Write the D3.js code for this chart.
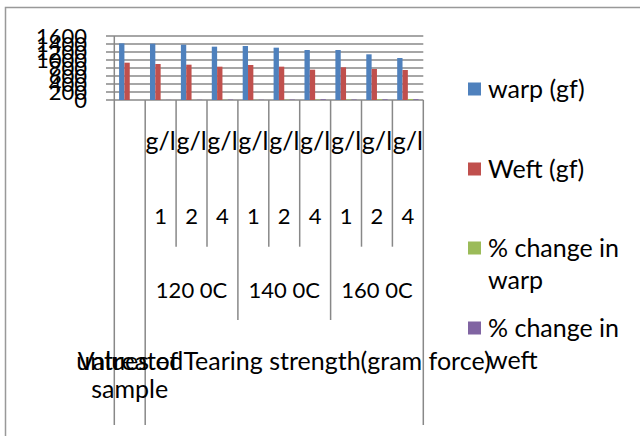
<!DOCTYPE html>
<html>
<head>
<meta charset="utf-8">
<script src="https://cdn.jsdelivr.net/npm/d3@7/dist/d3.min.js"></script>
<style>
  html, body { margin: 0; padding: 0; background: #fff; }
  svg { display: block; font-family: Lato, "Open Sans", sans-serif; }
</style>
</head>
<body>
<div id="chart"></div>
<script>
// categories: first one is the untreated sample, then 3 temps x 3 doses
var doses = ['', '1', '2', '4', '1', '2', '4', '1', '2', '4'];
var units = ['', 'g/l', 'g/l', 'g/l', 'g/l', 'g/l', 'g/l', 'g/l', 'g/l', 'g/l'];
var temps = ['120 0C', '140 0C', '160 0C'];
var untreatedLabel = ['untreated', 'sample'];
var groupLabel = 'Values of Tearing strength(gram force)';

var series = ['warp (gf)', 'Weft (gf)', '% change in warp', '% change in weft'];
var warp = [1417, 1408, 1383, 1333, 1350, 1308, 1250, 1250, 1142, 1050];
var weft = [933, 900, 883, 833, 875, 833, 758, 817, 775, 750];
var warpChange = [0, 0.6, 2.4, 5.9, 4.7, 7.7, 11.8, 11.8, 19.4, 25.9];
var weftChange = [0, 3.5, 5.4, 10.7, 6.2, 10.7, 18.8, 12.4, 16.9, 19.6];
var yTicks = [0, 200, 400, 600, 800, 1000, 1200, 1400, 1600];

var colors = ['#4f81bd', '#c0504d', '#9bbb59', '#8064a2'];
var values = [warp, weft, warpChange, weftChange];

var W = 640, H = 436;
var FS = 22;   // numbers
var FW = 25;   // words
var grid = '#888';

var svg = d3.select('#chart').append('svg').attr('width', W).attr('height', H);

// outer chart border (runs off the right and bottom edges)
svg.append('rect').attr('x', 5.5).attr('y', 7.5).attr('width', 700).attr('height', 500)
  .attr('fill', '#fff').attr('stroke', '#999').attr('stroke-width', 1.5);

var idx = d3.range(doses.length);
var x0 = d3.scaleBand().domain(idx).range([114.3, 423.3]);
var gap = x0.bandwidth() * 0.31;
var x1 = d3.scaleBand().domain(d3.range(series.length)).range([gap / 2, x0.bandwidth() - gap / 2]);
var y = d3.scaleLinear().domain([0, 1600]).range([100, 36]);

// gridlines (extend left past the axis like excel tick marks)
svg.append('g').selectAll('line').data(yTicks).enter().append('line')
  .attr('x1', 106).attr('x2', x0.range()[1])
  .attr('y1', function (d) { return y(d); }).attr('y2', function (d) { return y(d); })
  .attr('stroke', grid).attr('stroke-width', 1.5);

// bars
series.forEach(function (s, si) {
  svg.append('g').selectAll('rect').data(values[si]).enter().append('rect')
    .attr('x', function (d, i) { return x0(i) + x1(si); })
    .attr('y', function (d) { return y(d); })
    .attr('width', x1.bandwidth())
    .attr('height', function (d) { return y(0) - y(d); })
    .attr('fill', colors[si]);
});

// y axis line
svg.append('line').attr('x1', x0.range()[0]).attr('x2', x0.range()[0])
  .attr('y1', y(1600)).attr('y2', y(0)).attr('stroke', grid).attr('stroke-width', 1.5);

// y tick labels (overlapping, as in the original)
svg.append('g').selectAll('text').data(yTicks).enter().append('text')
  .attr('x', 87).attr('y', function (d) { return y(d); })
  .attr('dy', '0.35em').attr('text-anchor', 'end')
  .attr('font-size', FS).attr('fill', '#000')
  .text(function (d) { return d; });

// category separators of the multi-level axis
var sepBottom = function (i) {
  if (i === 0 || i === 1 || i === doses.length) return 425;
  if ((i - 1) % 3 === 0) return 320;
  return 246.7;
};
var edges = d3.range(doses.length + 1);
svg.append('g').selectAll('line').data(edges).enter().append('line')
  .attr('x1', function (i) { return x0.range()[0] + i * x0.step(); })
  .attr('x2', function (i) { return x0.range()[0] + i * x0.step(); })
  .attr('y1', y(0)).attr('y2', sepBottom)
  .attr('stroke', grid).attr('stroke-width', 1.5);

var cx = function (i) { return x0(i) + x0.bandwidth() / 2; };

svg.append('g').selectAll('text').data(units).enter().append('text')
  .attr('x', function (d, i) { return cx(i); }).attr('y', 141).attr('dy', '0.35em')
  .attr('text-anchor', 'middle').attr('font-size', FW).text(function (d) { return d; });

svg.append('g').selectAll('text').data(doses).enter().append('text')
  .attr('x', function (d, i) { return cx(i); }).attr('y', 216).attr('dy', '0.35em')
  .attr('text-anchor', 'middle').attr('font-size', FS).text(function (d) { return d; });

svg.append('g').selectAll('text').data(temps).enter().append('text')
  .attr('x', function (d, t) { return (cx(1 + t * 3) + cx(3 + t * 3)) / 2; }).attr('y', 290).attr('dy', '0.35em')
  .attr('text-anchor', 'middle').attr('font-size', FS).text(function (d) { return d; });

svg.append('text').attr('x', (cx(1) + cx(doses.length - 1)) / 2).attr('y', 361).attr('dy', '0.35em')
  .attr('text-anchor', 'middle').attr('font-size', FW).text(groupLabel);

svg.append('g').selectAll('text').data(untreatedLabel).enter().append('text')
  .attr('x', cx(0)).attr('y', function (d, i) { return 361 + i * 28; }).attr('dy', '0.35em')
  .attr('text-anchor', 'middle').attr('font-size', FW).text(function (d) { return d; });

// legend
var legendY = [89, 169, 248, 328];
var lg = svg.append('g');
series.forEach(function (s, si) {
  lg.append('rect').attr('x', 468).attr('y', legendY[si] - 6.5).attr('width', 13).attr('height', 13).attr('fill', colors[si]);
  var words = s.split(' ');
  var lines = words.length > 3 ? [words.slice(0, 3).join(' '), words.slice(3).join(' ')] : [s];
  lines.forEach(function (ln, li) {
    lg.append('text').attr('x', 488).attr('y', legendY[si] + li * 32).attr('dy', '0.35em')
      .attr('font-size', FW).text(ln);
  });
});
</script>
</body>
</html>
